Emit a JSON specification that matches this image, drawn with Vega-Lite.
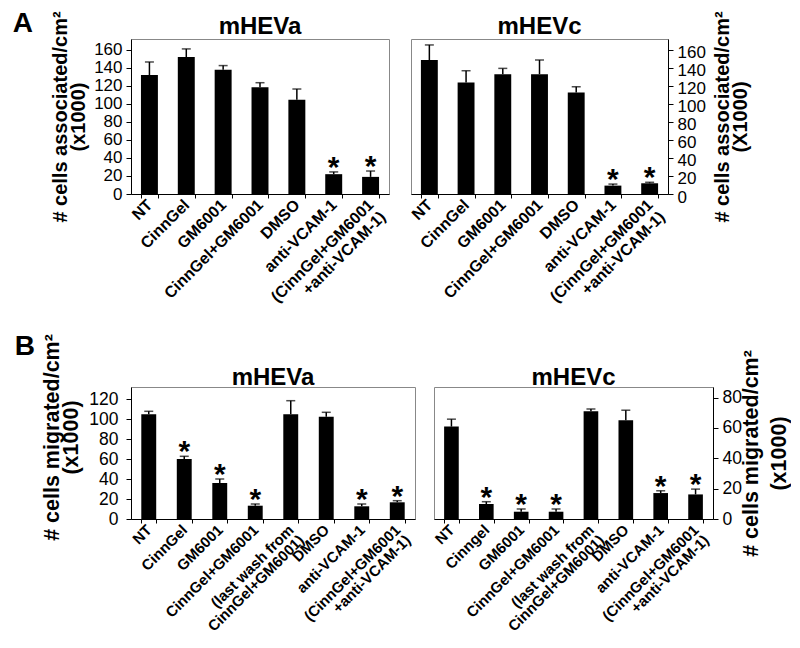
{
  "$schema": "https://vega.github.io/schema/vega-lite/v6.json",
  "padding": {"left": 12, "top": 10, "right": 0, "bottom": 0},
  "datasets": {
    "Aa": [
      {"treatment": "NT", "mean": 132, "upper": 146.5, "star": ""},
      {"treatment": "CinnGel", "mean": 152, "upper": 161, "star": ""},
      {"treatment": "GM6001", "mean": 138, "upper": 142.5, "star": ""},
      {"treatment": "CinnGel+GM6001", "mean": 118.5, "upper": 123.5, "star": ""},
      {"treatment": "DMSO", "mean": 104.5, "upper": 116.5, "star": ""},
      {"treatment": "anti-VCAM-1", "mean": 22, "upper": 24.5, "star": "*"},
      {"treatment": "(CinnGel+GM6001|+anti-VCAM-1)", "mean": 19, "upper": 25.5, "star": "*"}
    ],
    "Ac": [
      {"treatment": "NT", "mean": 148.7, "upper": 165.4, "star": ""},
      {"treatment": "CinnGel", "mean": 123.8, "upper": 136.8, "star": ""},
      {"treatment": "GM6001", "mean": 133, "upper": 139.4, "star": ""},
      {"treatment": "CinnGel+GM6001", "mean": 133, "upper": 148.7, "star": ""},
      {"treatment": "DMSO", "mean": 112.6, "upper": 119, "star": ""},
      {"treatment": "anti-VCAM-1", "mean": 9.3, "upper": 11, "star": "*"},
      {"treatment": "(CinnGel+GM6001|+anti-VCAM-1)", "mean": 11.9, "upper": 13, "star": "*"}
    ],
    "Ba": [
      {"treatment": "NT", "mean": 104.7, "upper": 107.7, "star": ""},
      {"treatment": "CinnGel", "mean": 60, "upper": 62.7, "star": "*"},
      {"treatment": "GM6001", "mean": 36, "upper": 40, "star": "*"},
      {"treatment": "CinnGel+GM6001", "mean": 13.3, "upper": 15, "star": "*"},
      {"treatment": "(last wash from|CinnGel+GM6001)", "mean": 104.7, "upper": 118.3, "star": ""},
      {"treatment": "DMSO", "mean": 102.3, "upper": 106.7, "star": ""},
      {"treatment": "anti-VCAM-1", "mean": 12.7, "upper": 15, "star": "*"},
      {"treatment": "(CinnGel+GM6001|+anti-VCAM-1)", "mean": 16.7, "upper": 18.3, "star": "*"}
    ],
    "Bc": [
      {"treatment": "NT", "mean": 60.9, "upper": 65.8, "star": ""},
      {"treatment": "Cinngel", "mean": 9.9, "upper": 11.4, "star": "*"},
      {"treatment": "GM6001", "mean": 4.8, "upper": 6.6, "star": "*"},
      {"treatment": "CinnGel+GM6001", "mean": 4.8, "upper": 6.6, "star": "*"},
      {"treatment": "(last wash from|CinnGel+GM6001)", "mean": 71, "upper": 72.5, "star": ""},
      {"treatment": "DMSO", "mean": 65.1, "upper": 71.7, "star": ""},
      {"treatment": "anti-VCAM-1", "mean": 17.1, "upper": 18.6, "star": "*"},
      {"treatment": "(CinnGel+GM6001|+anti-VCAM-1)", "mean": 16.2, "upper": 19.7, "star": "*"}
    ]
  },
  "vconcat": [
    {
      "title": {"text": "A", "orient": "left", "anchor": "end", "angle": 0, "fontSize": 28, "fontWeight": "bold", "align": "right", "baseline": "top", "offset": -3, "dy": 0},
      "spacing": 14,
      "hconcat": [
        {
          "data": {"name": "Aa"},
          "width": 258, "height": 155,
          "title": {"text": "mHEVa", "frame": "group", "offset": -28},
          "layer": [
            {"mark": {"type": "bar", "color": "black"},
             "encoding": {
               "x": {"field": "treatment", "type": "nominal", "sort": null,
                     "scale": {"paddingInner": 0.54, "paddingOuter": 0.27},
                     "axis": {"title": null, "labelAngle": -45, "labelAlign": "right", "labelBaseline": "middle", "labelFontSize": 16, "labelFontWeight": "bold", "labelExpr": "split(datum.label, '|')", "tickBand": "extent", "tickSize": 4, "labelPadding": 4, "labelLineHeight": 17, "labelOverlap": false}},
               "y": {"field": "mean", "type": "quantitative", "scale": {"domain": [0, 172], "nice": false},
                     "axis": {"title": ["# cells associated/cm²", "(x1000)"], "values": [0, 20, 40, 60, 80, 100, 120, 140, 160], "tickCount": 20, "labelOverlap": false, "labelFontSize": 17, "titleFontSize": 20, "titleLineHeight": 18, "titlePadding": 5, "labelPadding": 4, "tickSize": 5}}
             }},
            {"mark": {"type": "rule", "color": "black", "strokeWidth": 1.5},
             "encoding": {"x": {"field": "treatment", "type": "nominal", "sort": null}, "y": {"field": "mean", "type": "quantitative"}, "y2": {"field": "upper"}}},
            {"mark": {"type": "tick", "color": "black", "thickness": 1.5, "size": 9},
             "encoding": {"x": {"field": "treatment", "type": "nominal", "sort": null}, "y": {"field": "upper", "type": "quantitative"}}},
            {"mark": {"type": "text", "fontSize": 30, "fontWeight": "bold", "baseline": "alphabetic", "dy": 5},
             "encoding": {"x": {"field": "treatment", "type": "nominal", "sort": null}, "y": {"field": "upper", "type": "quantitative"}, "text": {"field": "star"}}}
          ]
        },
        {
          "data": {"name": "Ac"},
          "width": 257, "height": 155,
          "title": {"text": "mHEVc", "frame": "group", "offset": -28},
          "layer": [
            {"mark": {"type": "bar", "color": "black"},
             "encoding": {
               "x": {"field": "treatment", "type": "nominal", "sort": null,
                     "scale": {"paddingInner": 0.54, "paddingOuter": 0.27},
                     "axis": {"title": null, "labelAngle": -45, "labelAlign": "right", "labelBaseline": "middle", "labelFontSize": 16, "labelFontWeight": "bold", "labelExpr": "split(datum.label, '|')", "tickBand": "extent", "tickSize": 4, "labelPadding": 4, "labelLineHeight": 17, "labelOverlap": false}},
               "y": {"field": "mean", "type": "quantitative", "scale": {"domain": [0, 172], "nice": false},
                     "axis": {"orient": "right", "title": ["# cells associated/cm²", "(X1000)"], "titleAngle": 270, "values": [0, 20, 40, 60, 80, 100, 120, 140, 160], "tickCount": 20, "labelOverlap": false, "labelFontSize": 17, "labelOffset": 3, "titleFontSize": 20, "titleLineHeight": 18, "titlePadding": 9, "labelPadding": 4, "tickSize": 5}}
             }},
            {"mark": {"type": "rule", "color": "black", "strokeWidth": 1.5},
             "encoding": {"x": {"field": "treatment", "type": "nominal", "sort": null}, "y": {"field": "mean", "type": "quantitative"}, "y2": {"field": "upper"}}},
            {"mark": {"type": "tick", "color": "black", "thickness": 1.5, "size": 9},
             "encoding": {"x": {"field": "treatment", "type": "nominal", "sort": null}, "y": {"field": "upper", "type": "quantitative"}}},
            {"mark": {"type": "text", "fontSize": 30, "fontWeight": "bold", "baseline": "alphabetic", "dy": 5},
             "encoding": {"x": {"field": "treatment", "type": "nominal", "sort": null}, "y": {"field": "upper", "type": "quantitative"}, "text": {"field": "star"}}}
          ]
        }
      ]
    },
    {
      "title": {"text": "B", "orient": "left", "anchor": "end", "angle": 0, "fontSize": 28, "fontWeight": "bold", "align": "right", "baseline": "top", "offset": -14, "dy": 0},
      "spacing": 12,
      "hconcat": [
        {
          "data": {"name": "Ba"},
          "width": 284, "height": 132,
          "title": {"text": "mHEVa", "frame": "group", "offset": -56},
          "layer": [
            {"mark": {"type": "bar", "color": "black"},
             "encoding": {
               "x": {"field": "treatment", "type": "nominal", "sort": null,
                     "scale": {"paddingInner": 0.58, "paddingOuter": 0.29},
                     "axis": {"title": null, "labelAngle": -45, "labelAlign": "right", "labelBaseline": "middle", "labelFontSize": 15, "labelFontWeight": "bold", "labelExpr": "split(datum.label, '|')", "tickBand": "extent", "tickSize": 4, "labelPadding": 4, "labelLineHeight": 14.5, "labelOverlap": false}},
               "y": {"field": "mean", "type": "quantitative", "scale": {"domain": [0, 132], "nice": false},
                     "axis": {"title": ["# cells migrated/cm²", "(x1000)"], "titleY": 50, "values": [0, 20, 40, 60, 80, 100, 120], "tickCount": 20, "labelOverlap": false, "labelFontSize": 17.5, "titleFontSize": 21.5, "titleLineHeight": 19, "titlePadding": 6, "labelPadding": 8, "tickSize": 5}}
             }},
            {"mark": {"type": "rule", "color": "black", "strokeWidth": 1.5},
             "encoding": {"x": {"field": "treatment", "type": "nominal", "sort": null}, "y": {"field": "mean", "type": "quantitative"}, "y2": {"field": "upper"}}},
            {"mark": {"type": "tick", "color": "black", "thickness": 1.5, "size": 9},
             "encoding": {"x": {"field": "treatment", "type": "nominal", "sort": null}, "y": {"field": "upper", "type": "quantitative"}}},
            {"mark": {"type": "text", "fontSize": 30, "fontWeight": "bold", "baseline": "alphabetic", "dy": 5},
             "encoding": {"x": {"field": "treatment", "type": "nominal", "sort": null}, "y": {"field": "upper", "type": "quantitative"}, "text": {"field": "star"}}}
          ]
        },
        {
          "data": {"name": "Bc"},
          "width": 279, "height": 132,
          "title": {"text": "mHEVc", "frame": "group", "offset": -40},
          "layer": [
            {"mark": {"type": "bar", "color": "black"},
             "encoding": {
               "x": {"field": "treatment", "type": "nominal", "sort": null,
                     "scale": {"paddingInner": 0.58, "paddingOuter": 0.29},
                     "axis": {"title": null, "labelAngle": -45, "labelAlign": "right", "labelBaseline": "middle", "labelFontSize": 15, "labelFontWeight": "bold", "labelExpr": "split(datum.label, '|')", "tickBand": "extent", "tickSize": 4, "labelPadding": 4, "labelLineHeight": 14.5, "labelOverlap": false}},
               "y": {"field": "mean", "type": "quantitative", "scale": {"domain": [0, 87], "nice": false},
                     "axis": {"orient": "right", "title": ["# cells migrated/cm²", "(x1000)"], "titleAngle": 270, "values": [0, 20, 40, 60, 80], "tickCount": 20, "labelOverlap": false, "labelFontSize": 17.5, "titleFontSize": 21.5, "titleLineHeight": 28, "titlePadding": -7, "labelPadding": 4, "tickSize": 5}}
             }},
            {"mark": {"type": "rule", "color": "black", "strokeWidth": 1.5},
             "encoding": {"x": {"field": "treatment", "type": "nominal", "sort": null}, "y": {"field": "mean", "type": "quantitative"}, "y2": {"field": "upper"}}},
            {"mark": {"type": "tick", "color": "black", "thickness": 1.5, "size": 9},
             "encoding": {"x": {"field": "treatment", "type": "nominal", "sort": null}, "y": {"field": "upper", "type": "quantitative"}}},
            {"mark": {"type": "text", "fontSize": 30, "fontWeight": "bold", "baseline": "alphabetic", "dy": 5},
             "encoding": {"x": {"field": "treatment", "type": "nominal", "sort": null}, "y": {"field": "upper", "type": "quantitative"}, "text": {"field": "star"}}}
          ]
        }
      ]
    }
  ],
  "spacing": 15,
  "config": {
    "font": "Liberation Sans",
    "view": {"stroke": "#888888", "strokeWidth": 1},
    "axis": {"domainColor": "black", "tickColor": "black", "labelColor": "black", "titleColor": "black", "grid": false, "titleFontWeight": "bold", "labelOverlap": false},
    "title": {"fontSize": 24, "fontWeight": "bold", "color": "black"}
  }
}
